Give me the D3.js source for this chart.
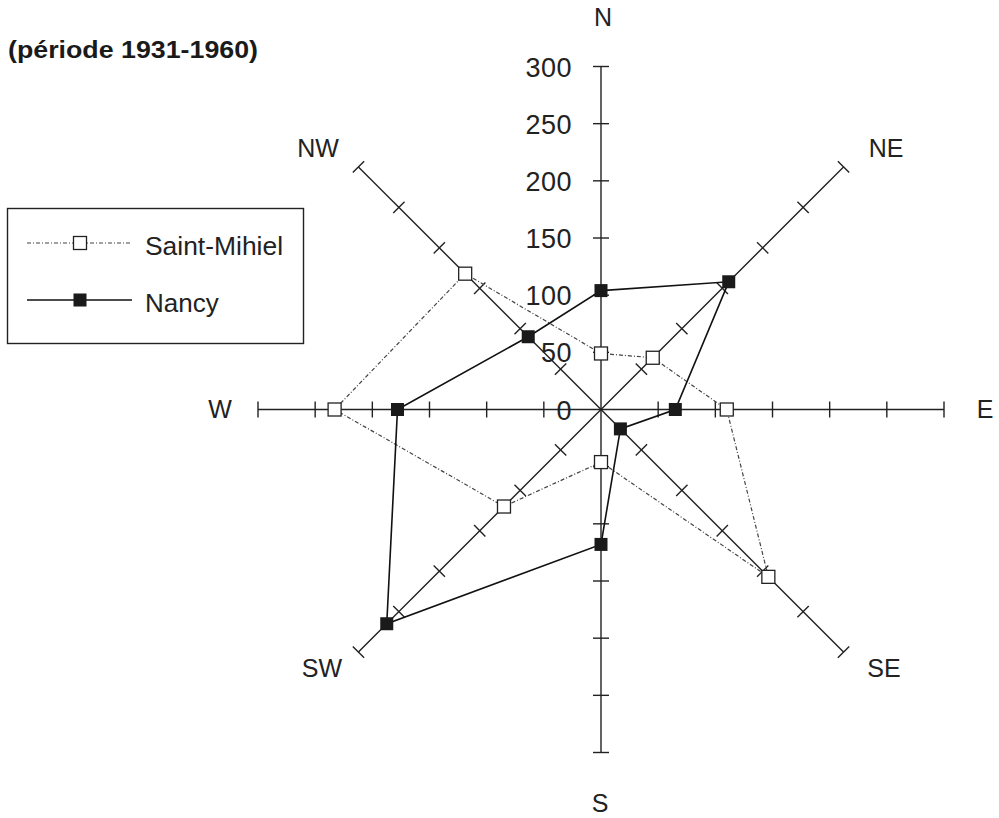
<!DOCTYPE html>
<html><head><meta charset="utf-8">
<script src="https://cdn.jsdelivr.net/npm/d3@7"></script>
<style>body{margin:0;background:#fff}svg{display:block}text{font-family:"Liberation Sans",Arial,sans-serif;fill:#222}</style>
</head><body>
<svg id="c" width="999" height="818"></svg>
<script>
const directions = ["N","NE","E","SE","S","SW","W","NW"];
const saintMihiel = [49, 64, 110, 207, 46, 120, 233, 168];
const nancy = [104, 158, 65, 24, 118, 265, 178, 90];
const tickValues = [0, 50, 100, 150, 200, 250, 300];
const seriesNames = ["Saint-Mihiel", "Nancy"];
const subtitle = "(période 1931-1960)";

const svg = d3.select("#c");
const cx = 601, cy = 409.5;
const r = d3.scaleLinear().domain([0, 300]).range([0, 343]);
const ang = d3.scalePoint().domain(directions).range([0, 315]);
const rad = d => ang(d) * Math.PI / 180;
const pt = (d, v) => [cx + r(v) * Math.sin(rad(d)), cy - r(v) * Math.cos(rad(d))];

// axes
const axes = svg.append("g").attr("stroke", "#222").attr("stroke-width", 1.4);
directions.forEach(d => {
  const a = rad(d);
  const [x1, y1] = pt(d, 0), [x2, y2] = pt(d, 300);
  axes.append("line").attr("x1", x1).attr("y1", y1).attr("x2", x2).attr("y2", y2);
  const px = Math.cos(a), py = Math.sin(a);
  tickValues.slice(1).forEach(t => {
    const [tx, ty] = pt(d, t);
    axes.append("line").attr("x1", tx - 8 * px).attr("y1", ty - 8 * py)
      .attr("x2", tx + 8 * px).attr("y2", ty + 8 * py);
  });
});

// tick labels on N axis
svg.append("g").selectAll("text").data(tickValues).join("text")
  .attr("x", cx - 29).attr("y", t => cy - r(t) + 10)
  .attr("text-anchor", "end").attr("font-size", 27).attr("letter-spacing", 0.5)
  .text(t => t);

// direction labels
const labelPos = {N:[603,26],NE:[886,157],E:[985,418],SE:[884,677],S:[600,812],SW:[322,677],W:[220,418],NW:[318,157]};
svg.append("g").selectAll("text").data(directions).join("text")
  .attr("x", d => labelPos[d][0]).attr("y", d => labelPos[d][1])
  .attr("text-anchor", "middle").attr("font-size", 25)
  .text(d => d);

// series
const line = d3.line().curve(d3.curveLinearClosed);
const smPts = directions.map((d, i) => pt(d, saintMihiel[i]));
const naPts = directions.map((d, i) => pt(d, nancy[i]));
svg.append("path").attr("d", line(smPts)).attr("fill", "none")
  .attr("stroke", "#444").attr("stroke-width", 1.2).attr("stroke-dasharray", "4,2,1,2");
svg.append("path").attr("d", line(naPts)).attr("fill", "none")
  .attr("stroke", "#111").attr("stroke-width", 1.6);
const ms = 13;
svg.append("g").selectAll("rect").data(smPts).join("rect")
  .attr("x", p => p[0] - ms / 2).attr("y", p => p[1] - ms / 2).attr("width", ms).attr("height", ms)
  .attr("fill", "#fff").attr("stroke", "#222").attr("stroke-width", 1.3);
svg.append("g").selectAll("rect").data(naPts).join("rect")
  .attr("x", p => p[0] - ms / 2).attr("y", p => p[1] - ms / 2).attr("width", ms).attr("height", ms)
  .attr("fill", "#1a1a1a");

// subtitle
svg.append("text").attr("x", 8).attr("y", 58).attr("font-size", 24).attr("font-weight", "bold")
  .style("fill", "#1a1a1a")
  .attr("textLength", 250).attr("lengthAdjust", "spacingAndGlyphs").text(subtitle);

// legend
const lg = svg.append("g");
lg.append("rect").attr("x", 7.5).attr("y", 208.5).attr("width", 296).attr("height", 135)
  .attr("fill", "#fff").attr("stroke", "#222").attr("stroke-width", 1.4);
const ly = [243, 300];
lg.append("line").attr("x1", 27).attr("x2", 132).attr("y1", ly[0]).attr("y2", ly[0])
  .attr("stroke", "#444").attr("stroke-width", 1.2).attr("stroke-dasharray", "4,2,1,2");
lg.append("rect").attr("x", 80 - ms / 2).attr("y", ly[0] - ms / 2).attr("width", ms).attr("height", ms)
  .attr("fill", "#fff").attr("stroke", "#222").attr("stroke-width", 1.3);
lg.append("line").attr("x1", 27).attr("x2", 132).attr("y1", ly[1]).attr("y2", ly[1])
  .attr("stroke", "#111").attr("stroke-width", 1.6);
lg.append("rect").attr("x", 80 - ms / 2).attr("y", ly[1] - ms / 2).attr("width", ms).attr("height", ms)
  .attr("fill", "#1a1a1a");
lg.append("text").attr("x", 145).attr("y", 255).attr("font-size", 26).attr("textLength", 138)
  .attr("lengthAdjust", "spacingAndGlyphs").text(seriesNames[0]);
lg.append("text").attr("x", 145).attr("y", 312).attr("font-size", 26).text(seriesNames[1]);
</script>
</body></html>
